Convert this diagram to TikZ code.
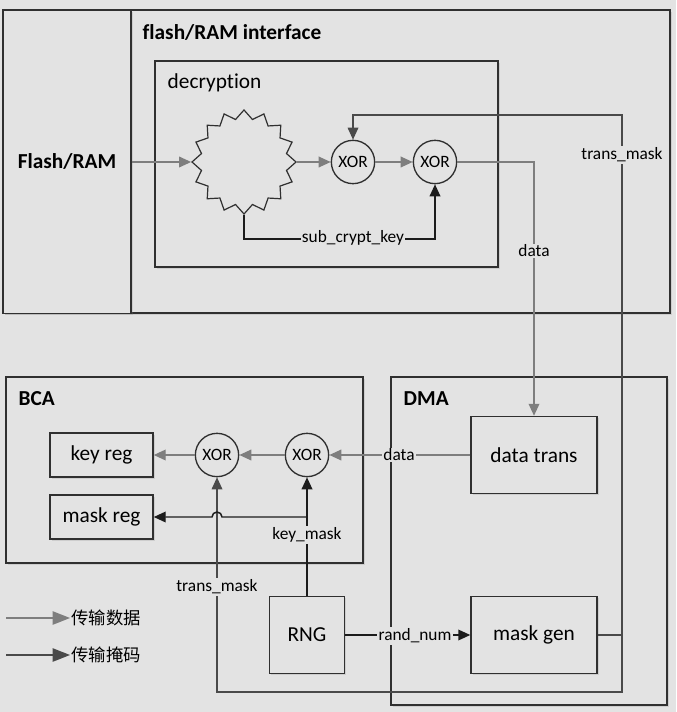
\documentclass[tikz,border=0pt]{standalone}
\usepackage{fontspec}
\setmainfont[Ligatures=NoCommon]{Carlito}
\newfontfamily\cjk{Noto Sans CJK SC}
\usetikzlibrary{arrows.meta,shapes.geometric,shadows,calc}
\definecolor{bg}{HTML}{E3E3E3}
\definecolor{frame}{HTML}{303030}
\definecolor{datagray}{HTML}{7E7E7E}
\definecolor{maskblack}{HTML}{1C1C1C}
\definecolor{tmgray}{HTML}{4A4A4A}

\begin{document}
\begin{tikzpicture}[x=0.75pt,y=-0.75pt,
  cont/.style={draw=frame,line width=1.1pt,fill=bg,drop shadow={shadow xshift=1.2pt,shadow yshift=-1.2pt,opacity=0.22}},
  box/.style={cont,inner sep=0pt,font=\fontsize{16}{19}\selectfont},
  gate/.style={circle,draw=frame,line width=1pt,fill=bg,minimum size=32.5pt,inner sep=0pt,font=\fontsize{13}{15}\selectfont},
  title/.style={font=\fontsize{16}{19}\selectfont\bfseries,anchor=west},
  lbl/.style={fill=bg,inner sep=1pt,font=\fontsize{13}{15}\selectfont},
  dline/.style={draw=datagray,line width=1.1pt,-{Triangle[length=9pt,width=8pt]}},
  mline/.style={draw=maskblack,line width=1.1pt,-{Triangle[length=9pt,width=8pt]}},
  tline/.style={mline,draw=tmgray,line width=0.9pt},
  big/.style={-{Triangle[length=13pt,width=10pt]}}]
  \fill[bg] (0,0) rectangle (676,712);
  \useasboundingbox (0,0) rectangle (676,712);

  % flash/RAM interface
  \path[cont] (3,10) rectangle (670,313);
  \node[box,minimum width=96pt,minimum height=227.25pt,font=\fontsize{16}{19}\selectfont\bfseries] (fr) at (67,162) {Flash/RAM};
  \node[title] at (138,33) {flash/RAM interface};
  \path[cont] (155,61) rectangle (498,267);
  \node[anchor=west,font=\fontsize{16}{19}\selectfont] at (163,83) {decryption};
  \node[star,star points=16,star point ratio=1.2,minimum size=78pt,inner sep=0pt,draw=frame,line width=0.9pt,fill=bg] (dec) at (244,162) {};
  \node[gate] (x1) at (353,162) {XOR};
  \node[gate] (x2) at (435,162) {XOR};

  % BCA
  \path[cont] (6,377) rectangle (363,563);
  \node[title] at (14,399) {BCA};
  \node[box,minimum width=77.25pt,minimum height=33pt] (kr) at (101.5,455) {key reg};
  \node[box,minimum width=77.25pt,minimum height=33pt] (mr) at (101.5,517) {mask reg};
  \node[gate] (x3) at (217,455) {XOR};
  \node[gate] (x4) at (307,455) {XOR};

  % DMA
  \path[cont] (391,377) rectangle (667,705);
  \node[title] at (399,399) {DMA};
  \node[box,minimum width=94.5pt,minimum height=57.75pt] (dt) at (534,455) {data trans};
  \node[box,minimum width=94.5pt,minimum height=57.75pt] (mg) at (534,635) {mask gen};
  \node[box,minimum width=56.25pt,minimum height=57.75pt] (rng) at (307,635) {RNG};

  % legend
  \coordinate (la) at (6,618);
  \coordinate (lb) at (6,655);
  \node[anchor=west,inner sep=1pt,font=\cjk\fontsize{13}{15}\selectfont] (ta) at (70,618) {传输数据};
  \node[anchor=west,inner sep=1pt,font=\cjk\fontsize{13}{15}\selectfont] (tb) at (70,655) {传输掩码};
  \draw[dline,big] (la) -- (ta);
  \draw[mline,draw=tmgray,big] (lb) -- (tb);

  % connectors
  \coordinate (tt) at (622,115);
  \coordinate (tu) at (622,692);
  \draw[dline] (fr.east) -- (dec.west);
  \draw[dline] (dec.east) -- (x1.west);
  \draw[dline] (x1) -- (x2);
  \draw[mline] (dec.south) -- ++(0,24) -| (x2.south);
  \draw[dline] (x2.east) -| (dt.north);
  \draw[tline] (mg.east) -| (tt) -| (x1.north);
  \draw[tline] (mg.east) -| (tu) -| (x3.south);
  \draw[dline] (dt.west) -- (x4.east);
  \draw[dline] (x4) -- (x3);
  \draw[dline] (x3) -- (kr);
  \draw[mline] (rng.north) -- (x4.south);
  \draw[mline] (x4.south |- mr.east) -- ($(x3.south |- mr.east)+(5,0)$) arc[start angle=0,end angle=-180,radius=5] -- (mr.east);
  \draw[mline] (rng.east) -- (mg.west);

  \node[lbl] at (353,238) {sub\_crypt\_key};
  \node[lbl] at (534,251) {data};
  \node[lbl] at (622,155) {trans\_mask};
  \node[lbl] at (399,455) {data};
  \node[lbl] at (307,535) {key\_mask};
  \node[lbl] at (217,587) {trans\_mask};
  \node[lbl] at (415,636) {rand\_num};
\end{tikzpicture}
\end{document}
